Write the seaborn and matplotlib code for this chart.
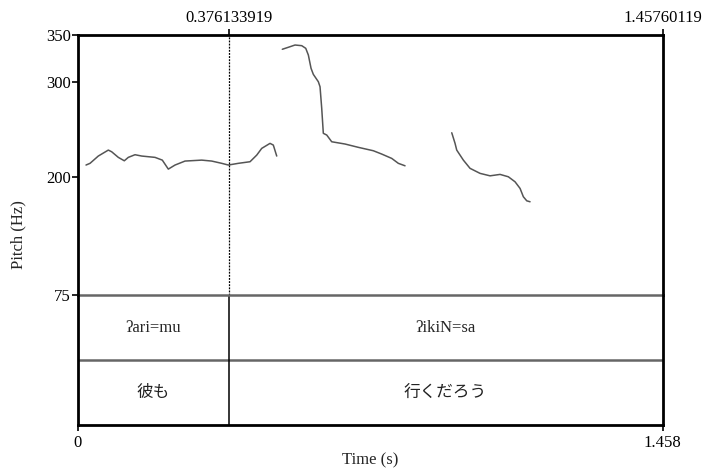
import matplotlib
matplotlib.use("Agg")
import matplotlib.pyplot as plt
import numpy as np
import pandas as pd
import seaborn as sns

# Time span of the recording (s) and the word boundary
t_start = 0.0
t_end = 1.45760119
boundary = 0.376133919

# Pitch range (Hz) and labelled pitch ticks
f0_min, f0_max = 75, 350
f0_ticks = [75, 200, 300, 350]

# F0 contour, voiced stretch 1
seg1_t = [0.0207, 0.0307, 0.0513, 0.0763, 0.0847, 0.1012, 0.1161, 0.1261, 0.1428,
          0.1595, 0.1926, 0.2108, 0.2258, 0.2425, 0.2674, 0.3090, 0.3339, 0.3589,
          0.3753, 0.4002, 0.4294, 0.4461, 0.4585, 0.4792, 0.4874, 0.4959]
seg1_f0 = [212.3, 214.1, 221.8, 228.1, 226.3, 220.4, 216.8, 220.4, 223.2,
           221.8, 220.4, 217.5, 208.0, 212.3, 216.5, 217.5, 216.5, 214.1,
           212.3, 214.1, 215.8, 222.8, 229.9, 235.2, 233.4, 221.8]

# F0 contour, voiced stretch 2
seg2_t = [0.5098, 0.5248, 0.5415, 0.5582, 0.5682, 0.5747, 0.5814, 0.5871, 0.5996,
          0.6038, 0.6080, 0.6120, 0.6205, 0.6329, 0.6661, 0.6992, 0.7366, 0.7575,
          0.7825, 0.7989, 0.8156]
seg2_f0 = [334.6, 336.7, 339.1, 338.4, 335.6, 328.5, 314.5, 308.1, 300.3,
           295.0, 272.2, 245.8, 244.0, 236.9, 234.5, 231.0, 227.4, 223.9,
           219.3, 214.1, 211.5]

# F0 contour, voiced stretch 3
seg3_t = [0.9320, 0.9402, 0.9444, 0.9609, 0.9776, 1.0025, 1.0274, 1.0524, 1.0730,
          1.0897, 1.1022, 1.1104, 1.1189, 1.1271]
seg3_f0 = [246.4, 235.2, 228.1, 217.5, 208.8, 203.5, 200.9, 202.4, 199.9,
           194.6, 187.6, 178.8, 174.5, 173.5]

# Annotation tiers: romanised words and Japanese gloss
tier1_labels = ["ʔari=mu", "ʔikiN=sa"]
tier2_labels = ["彼も", "行くだろう"]

sns.set_theme(style="white")
plt.rcParams["font.family"] = ["Liberation Serif", "DejaVu Serif"]

contour = pd.concat([
    pd.DataFrame({"t": seg1_t, "f0": seg1_f0, "seg": 1}),
    pd.DataFrame({"t": seg2_t, "f0": seg2_f0, "seg": 2}),
    pd.DataFrame({"t": seg3_t, "f0": seg3_f0, "seg": 3}),
])

fig = plt.figure(figsize=(7.04, 4.71), dpi=100)
W, H = 704, 471
x0, x1 = 77.7, 662.7
y_top, y_mid, y_tier, y_bot = 34.7, 295, 360, 425

ax = fig.add_axes([x0 / W, 1 - y_mid / H, (x1 - x0) / W, (y_mid - y_top) / H])
tx = fig.add_axes([x0 / W, 1 - y_bot / H, (x1 - x0) / W, (y_bot - y_mid) / H])

tick_fs = 12
divider_kw = dict(color="#666666", linewidth=1.8)

# Pitch panel
sns.lineplot(data=contour, x="t", y="f0", units="seg", estimator=None,
             color="#555555", linewidth=1.1, ax=ax, legend=False)
ax.set_xlim(t_start, t_end)
ax.set_ylim(f0_min, f0_max)
ax.axvline(boundary, color="black", linewidth=0.9, linestyle=(0, (1.5, 1)))
for side in ["left", "top", "right"]:
    ax.spines[side].set_color("black")
    ax.spines[side].set_linewidth(2.0)
ax.spines["bottom"].set_visible(False)
ax.set_yticks(f0_ticks)
ax.set_yticklabels([str(v) for v in f0_ticks], fontsize=tick_fs)
ax.tick_params(axis="y", left=True, length=4, width=1.2, pad=1, colors="black")
ax.xaxis.set_ticks_position("top")
ax.set_xticks([boundary, t_end])
ax.set_xticklabels(["0.376133919", "1.45760119"], fontsize=tick_fs)
ax.tick_params(axis="x", top=True, bottom=False, length=4, width=1.2, pad=2,
               colors="black")
ax.set_xlabel("")
ax.set_ylabel("")
fig.text(18 / W, 1 - 235 / H, "Pitch (Hz)", rotation=90, ha="center",
         va="center", fontsize=12)

# Annotation tiers
tx.set_xlim(t_start, t_end)
tx.set_ylim(0, 2)
tx.axhline(1, **divider_kw)
tx.axhline(2, clip_on=False, zorder=3, **divider_kw)
tx.axvline(boundary, color="black", linewidth=1.1)
for side in ["left", "bottom", "right"]:
    tx.spines[side].set_color("black")
    tx.spines[side].set_linewidth(2.0)
    tx.spines[side].set_zorder(4)
tx.spines["top"].set_visible(False)
tx.set_yticks([])
tx.set_xticks([t_start, 1.458])
tx.set_xticklabels(["0", "1.458"], fontsize=tick_fs)
tx.tick_params(axis="x", bottom=True, length=4, width=1.2, pad=3, colors="black")
tx.set_xlabel("")
fig.text((x0 + x1) / 2 / W, 1 - 460 / H, "Time (s)", ha="center", va="center",
         fontsize=12)

mids = [(t_start + boundary) / 2, (boundary + t_end) / 2]
for m, lab1, lab2 in zip(mids, tier1_labels, tier2_labels):
    tx.text(m, 1.5, lab1, ha="center", va="center", fontsize=12,
            family=["Liberation Serif", "DejaVu Serif"])
    tx.text(m, 0.5, lab2, ha="center", va="center", fontsize=12,
            family=["Noto Sans CJK JP", "DejaVu Sans"], color="#222222")

fig.savefig("out.png", dpi=100, facecolor="white")
